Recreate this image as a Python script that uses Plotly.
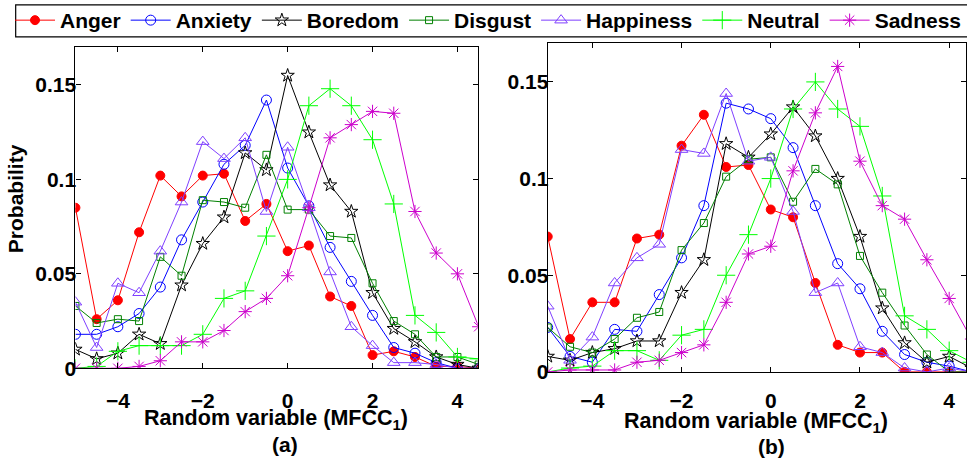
import plotly.graph_objects as go

# bin centres (random variable MFCC1)
bins = [-5.0, -4.5, -4.0, -3.5, -3.0, -2.5, -2.0, -1.5, -1.0, -0.5,
        0.0, 0.5, 1.0, 1.5, 2.0, 2.5, 3.0, 3.5, 4.0, 4.5]

emotions = ["Anger", "Anxiety", "Boredom", "Disgust", "Happiness", "Neutral", "Sadness"]

# panel (a)
anger_a = [0.085, 0.026, 0.036, 0.072, 0.102, 0.091, 0.102, 0.103, 0.078, 0.087,
           0.062, 0.065, 0.038, 0.033, 0.007, 0.009, 0.006, 0.001, 0.001, 0.0]
anxiety_a = [0.018, 0.018, 0.022, 0.029, 0.043, 0.068, 0.088, 0.108, 0.118, 0.142,
             0.106, 0.086, 0.064, 0.046, 0.028, 0.011, 0.008, 0.003, 0.0, 0.0]
boredom_a = [0.010, 0.005, 0.008, 0.018, 0.013, 0.044, 0.066, 0.080, 0.114, 0.105,
             0.155, 0.125, 0.097, 0.083, 0.040, 0.021, 0.014, 0.006, 0.002, 0.0]
disgust_a = [0.033, 0.024, 0.026, 0.025, 0.059, 0.049, 0.089, 0.088, 0.085, 0.113,
             0.084, 0.084, 0.070, 0.069, 0.045, 0.025, 0.018, 0.006, 0.006, 0.002]
happiness_a = [0.035, 0.011, 0.045, 0.040, 0.062, 0.088, 0.120, 0.111, 0.122, 0.083,
               0.117, 0.085, 0.051, 0.022, 0.012, 0.003, 0.003, 0.002, 0.0, 0.0]
neutral_a = [0.0, 0.001, 0.009, 0.012, 0.012, 0.012, 0.018, 0.037, 0.041, 0.070,
             0.100, 0.139, 0.148, 0.139, 0.121, 0.087, 0.028, 0.019, 0.006, 0.005]
sadness_a = [0.0, 0.0, 0.0, 0.001, 0.004, 0.014, 0.014, 0.020, 0.030, 0.037,
             0.049, 0.085, 0.122, 0.129, 0.136, 0.135, 0.083, 0.061, 0.050, 0.022]

# panel (b)
anger_b = [0.070, 0.017, 0.036, 0.036, 0.069, 0.071, 0.117, 0.133, 0.106, 0.107,
           0.084, 0.080, 0.046, 0.014, 0.010, 0.010, 0.0, 0.0, 0.0, 0.0]
anxiety_b = [0.023, 0.008, 0.005, 0.022, 0.021, 0.040, 0.059, 0.086, 0.139, 0.136,
             0.131, 0.116, 0.086, 0.056, 0.043, 0.021, 0.009, 0.005, 0.003, 0.0]
boredom_b = [0.008, 0.006, 0.010, 0.012, 0.016, 0.016, 0.041, 0.058, 0.118, 0.111,
             0.123, 0.137, 0.122, 0.100, 0.070, 0.033, 0.015, 0.005, 0.008, 0.002]
disgust_b = [0.023, 0.013, 0.010, 0.017, 0.028, 0.031, 0.063, 0.077, 0.101, 0.110,
             0.111, 0.088, 0.105, 0.097, 0.060, 0.041, 0.024, 0.009, 0.0, 0.0]
happiness_b = [0.034, 0.006, 0.018, 0.046, 0.059, 0.066, 0.115, 0.113, 0.144, 0.109,
               0.111, 0.083, 0.041, 0.046, 0.013, 0.010, 0.002, 0.0, 0.002, 0.0]
neutral_b = [0.0, 0.002, 0.003, 0.011, 0.011, 0.006, 0.019, 0.022, 0.050, 0.071,
             0.100, 0.136, 0.150, 0.136, 0.127, 0.091, 0.029, 0.022, 0.011, 0.005]
sadness_b = [0.0, 0.001, 0.001, 0.001, 0.005, 0.006, 0.010, 0.014, 0.036, 0.061,
             0.065, 0.104, 0.134, 0.158, 0.109, 0.086, 0.079, 0.058, 0.038, 0.017]

series_a = [anger_a, anxiety_a, boredom_a, disgust_a, happiness_a, neutral_a, sadness_a]
series_b = [anger_b, anxiety_b, boredom_b, disgust_b, happiness_b, neutral_b, sadness_b]

x_ticks = [-4, -2, 0, 2, 4]
x_ticktext = ["\u22124", "\u22122", "0", "2", "4"]
y_ticks = [0, 0.05, 0.1, 0.15]
y_ticktext = ["0", "0.05", "0.1", "0.15"]

colors = ["#ff0000", "#0000ff", "#000000", "#008000", "#7f3fff", "#00ff00", "#cc00cc"]
symbols = ["circle", "circle-open", "star-open", "square-open", "triangle-up-open",
           "cross-thin-open", "asterisk-open"]
sizes = [9, 10, 10, 7, 11, 13, 11]

FONT = "Liberation Sans, Arial, sans-serif"

fig = go.Figure()
for i, name in enumerate(emotions):
    for panel, data in (("a", series_a[i]), ("b", series_b[i])):
        fig.add_trace(go.Scatter(
            x=bins, y=data, name=name, mode="lines+markers",
            xaxis="x" if panel == "a" else "x2",
            yaxis="y" if panel == "a" else "y2",
            showlegend=(panel == "a"),
            line=dict(color=colors[i], width=1),
            marker=dict(symbol=symbols[i], size=sizes[i], color=colors[i],
                        line=dict(color=colors[i], width=1)),
        ))

W, H = 967, 461
axis_common = dict(
    showline=True, linecolor="black", linewidth=1.2,
    ticks="inside", ticklen=5, tickcolor="black", tickwidth=1,
    showgrid=False, zeroline=False,
    tickfont=dict(family=FONT, size=21, color="black", weight="bold"),
)

fig.update_layout(
    width=W, height=H,
    margin=dict(l=0, r=0, t=0, b=0),
    paper_bgcolor="white", plot_bgcolor="white",
    font=dict(family=FONT, color="black"),
    xaxis=dict(domain=[75.5 / W, 478.3 / W], range=[-5, 4.48], anchor="y",
               tickvals=x_ticks, ticktext=x_ticktext, mirror="ticks",
               ticklabelstandoff=13, **axis_common),
    yaxis=dict(domain=[(H - 377.3) / H, (H - 48.3) / H], range=[0, 0.17], anchor="x",
               tickvals=y_ticks, ticktext=y_ticktext, mirror="ticks",
               ticklabelstandoff=-6, **axis_common),
    xaxis2=dict(domain=[548.3 / W, 1.0], range=[-5, 4.377], anchor="y2",
                tickvals=x_ticks, ticktext=x_ticktext, mirror="ticks",
                ticklabelstandoff=10, **axis_common),
    yaxis2=dict(domain=[(H - 381) / H, (H - 44.3) / H], range=[0, 0.17], anchor="x2",
                tickvals=y_ticks, ticktext=y_ticktext, mirror="ticks",
                ticklabelstandoff=-6, **axis_common),
    legend=dict(
        orientation="h", x=22 / W, y=1.0, xanchor="left", yanchor="top",
        borderwidth=0, bgcolor="rgba(0,0,0,0)",
        font=dict(family=FONT, size=21, color="black", weight="bold"),
        itemwidth=40, tracegroupgap=0,
    ),
    shapes=[
        dict(type="rect", xref="paper", yref="paper",
             x0=15.7 / W, x1=1.05, y0=1 - 37.7 / H, y1=1 - 5 / H,
             line=dict(color="black", width=1.2), fillcolor="rgba(0,0,0,0)",
             layer="below"),
    ],
    annotations=[
        dict(text="Probability", textangle=-90, x=15 / W, y=1 - 203 / H,
             xanchor="center", yanchor="middle",
             xref="paper", yref="paper", showarrow=False,
             font=dict(family=FONT, size=21, weight="bold")),
        dict(text="Random variable (MFCC<sub>1</sub>)", x=276 / W, y=1 - 430 / H,
             xanchor="center", yanchor="middle",
             xref="paper", yref="paper", showarrow=False,
             font=dict(family=FONT, size=21.5, weight="bold")),
        dict(text="(a)", x=285 / W, y=1 - 455 / H,
             xanchor="center", yanchor="middle",
             xref="paper", yref="paper", showarrow=False,
             font=dict(family=FONT, size=21, weight="bold")),
        dict(text="Random variable (MFCC<sub>1</sub>)", x=757 / W, y=1 - 433 / H,
             xanchor="center", yanchor="middle",
             xref="paper", yref="paper", showarrow=False,
             font=dict(family=FONT, size=21.5, weight="bold")),
        dict(text="(b)", x=772 / W, y=1 - 457 / H,
             xanchor="center", yanchor="middle",
             xref="paper", yref="paper", showarrow=False,
             font=dict(family=FONT, size=21, weight="bold")),
    ],
)

fig.write_html("out.html", config={"displayModeBar": False},
               post_script="document.body.style.margin='0';")
